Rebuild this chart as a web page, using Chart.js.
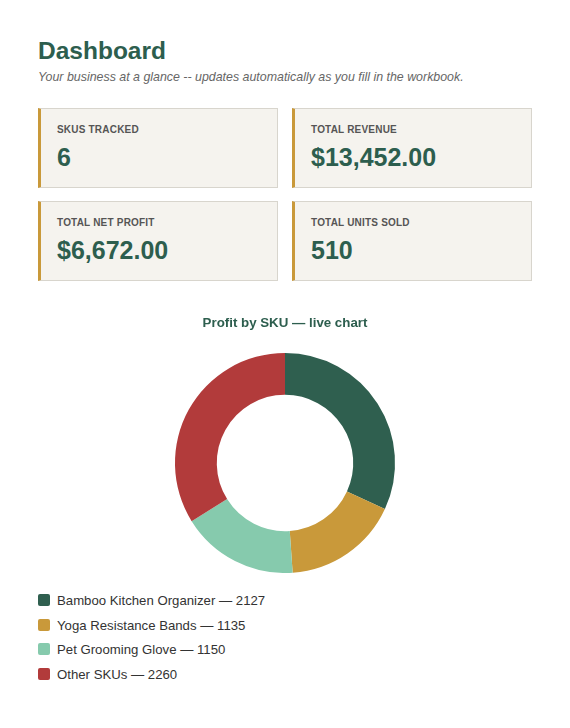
<!DOCTYPE html>
<html>
<head>
<meta charset="utf-8">
<script src="https://cdn.jsdelivr.net/npm/chart.js@4.4.1/dist/chart.umd.min.js"></script>
<style>
  body { margin: 0; background: #fff; font-family: "Liberation Sans", Arial, sans-serif; }
  .wrap { width: 494px; padding: 36px 0 0 38px; }
  h1 { margin: 0; font-size: 24.5px; line-height: 30px; color: #2d5e4e; font-weight: bold; }
  .sub { margin: 3px 0 0; font-size: 12.4px; line-height: 16px; font-style: italic; color: #666; }
  .cards { display: grid; grid-template-columns: 240px 240px; column-gap: 14px; row-gap: 13px; margin-top: 23px; }
  .card { box-sizing: border-box; height: 80px; background: #f5f3ee; border: 1px solid #d8d5cd; border-left: 3px solid #c9993a; padding: 15px 0 0 16px; }
  .card .lbl { font-size: 10px; font-weight: bold; color: #555; letter-spacing: 0.2px; line-height: 12px; }
  .card .val { font-size: 25px; font-weight: bold; color: #2d5e4e; line-height: 30px; margin-top: 6px; }
  .chartbox { position: relative; width: 494px; height: 266px; margin-top: 25.5px; }
  .legend { margin-top: 16.5px; }
  .legend div { height: 24.7px; line-height: 24.7px; font-size: 13.2px; color: #333; }
  .legend span { display: inline-block; width: 12px; height: 12px; border-radius: 2px; vertical-align: -1px; margin-right: 7px; }
</style>
</head>
<body>
<div class="wrap">
  <h1>Dashboard</h1>
  <p class="sub">Your business at a glance -- updates automatically as you fill in the workbook.</p>
  <div class="cards" id="cards"></div>
  <div class="chartbox"><canvas id="chart"></canvas></div>
  <div class="legend" id="legend"></div>
</div>
<script>
const cardLabels = ["SKUS TRACKED", "TOTAL REVENUE", "TOTAL NET PROFIT", "TOTAL UNITS SOLD"];
const cardValues = ["6", "$13,452.00", "$6,672.00", "510"];

const skus = ["Bamboo Kitchen Organizer", "Yoga Resistance Bands", "Pet Grooming Glove", "Other SKUs"];
const profits = [2127, 1135, 1150, 2260];
const colors = ["#2f5f4f", "#c9993a", "#86caad", "#b23b3b"];

document.getElementById("cards").innerHTML = cardLabels.map((l, i) =>
  '<div class="card"><div class="lbl">' + l + '</div><div class="val">' + cardValues[i] + '</div></div>'
).join("");

document.getElementById("legend").innerHTML = skus.map((s, i) =>
  '<div><span style="background:' + colors[i] + '"></span>' + s + ' \u2014 ' + profits[i] + '</div>'
).join("");

new Chart(document.getElementById("chart"), {
  type: "doughnut",
  data: {
    labels: skus,
    datasets: [{ data: profits, backgroundColor: colors, borderWidth: 0 }]
  },
  options: {
    responsive: true,
    maintainAspectRatio: false,
    animation: false,
    cutout: "62%",
    plugins: {
      legend: { display: false },
      tooltip: { enabled: false },
      title: {
        display: true,
        text: "Profit by SKU \u2014 live chart",
        color: "#2d5e4e",
        font: { family: "Liberation Sans", size: 13.3, weight: "bold" },
        padding: { top: 8, bottom: 22 }
      }
    }
  }
});
</script>
</body>
</html>
